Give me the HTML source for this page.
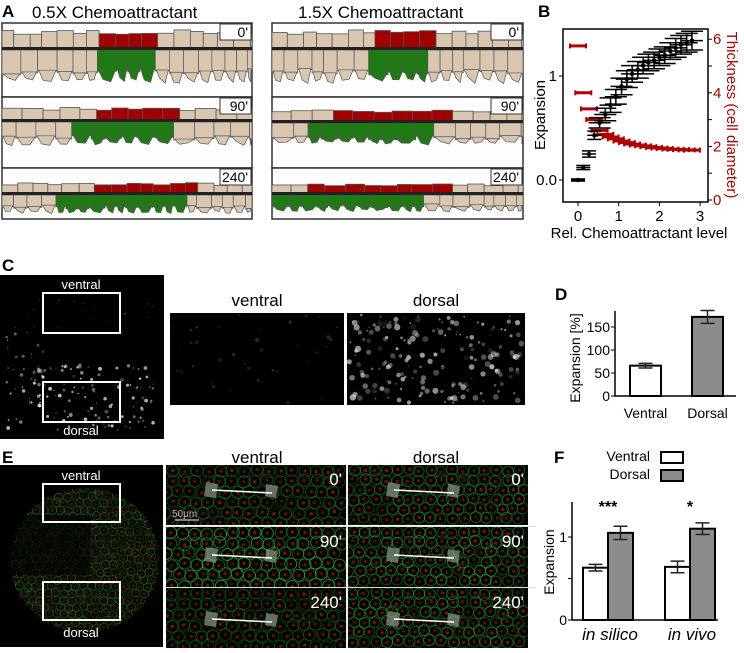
<!DOCTYPE html>
<html><head><meta charset="utf-8">
<style>
html,body{margin:0;padding:0;background:#fff;}
body{width:744px;height:648px;overflow:hidden;font-family:"Liberation Sans",Arial,sans-serif;}
svg text{font-family:"Liberation Sans",Arial,sans-serif;}
</style></head>
<body>
<svg id="fig" width="744" height="648" viewBox="0 0 744 648" xmlns="http://www.w3.org/2000/svg">
<g id="panelA"></g>
<g id="panelB"></g>
<g id="panelC"></g>
<g id="panelD"></g>
<g id="panelE"></g>
<g id="panelF"></g>
<g font-weight="bold" font-size="17">
<text x="2" y="17">A</text>
<text x="538" y="17">B</text>
<text x="2" y="271">C</text>
<text x="555" y="300">D</text>
<text x="2" y="463">E</text>
<text x="554" y="463">F</text>
</g>
<text x="32" y="18" font-size="17">0.5X Chemoattractant</text>
<text x="298" y="18" font-size="17">1.5X Chemoattractant</text>
</svg>
<script>
// ---- chart data (panel B) ----
const bConc = [0,0.13,0.27,0.4,0.53,0.67,0.8,0.93,1.07,1.2,1.33,1.47,1.6,1.73,1.87,2.0,2.13,2.27,2.4,2.53,2.67,2.8];
const bExpansion = [0.0,0.12,0.25,0.43,0.55,0.63,0.72,0.8,0.9,0.97,1.02,1.06,1.1,1.13,1.15,1.18,1.2,1.24,1.27,1.3,1.32,1.34];
const bExpErr = [0.01,0.02,0.03,0.04,0.05,0.06,0.07,0.07,0.08,0.08,0.08,0.08,0.08,0.08,0.08,0.08,0.08,0.08,0.09,0.09,0.09,0.09];
const bThickness = [5.75,4.0,3.4,3.0,2.6,2.45,2.35,2.28,2.2,2.14,2.09,2.05,2.02,1.99,1.96,1.94,1.92,1.9,1.89,1.88,1.87,1.86];
const bXTicks = [0,1,2,3];
const bYTicks = [0.0,1];
const bYTickLabels = ["0.0","1"];
const bY2Ticks = [0,1,2,3,4,5,6];
// ---- panel D ----
const dCats = ["Ventral","Dorsal"];
const dValues = [66,172];
const dErrors = [5,14];
const dTicks = [0,50,100,150];
// ---- panel F ----
const fGroups = ["in silico","in vivo"];
const fVentral = [0.63,0.64];
const fDorsal = [1.05,1.1];
const fVentralErr = [0.04,0.07];
const fDorsalErr = [0.08,0.07];
const fSig = ["***","*"];
const fTicks = [0,1];
</script>
<script>
const NS="http://www.w3.org/2000/svg";
function mk(parent,tag,attrs,text){const e=document.createElementNS(NS,tag);for(const k in attrs)e.setAttribute(k,attrs[k]);if(text!==undefined)e.textContent=text;parent.appendChild(e);return e;}
let seed=12345;function rnd(){seed=(seed*16807)%2147483647;return (seed-1)/2147483646;}

// ---------- Panel A ----------
const A=document.getElementById('panelA');
function strips(x0,x1,cfg){
  const boxes=[[23,97],[97,168],[168,219]];
  const lbl=["0'","90'","240'"];
  boxes.forEach((b,i)=>{
    const c=cfg[i];
    const g=mk(A,'g',{});
    
    
    mk(g,'rect',{x:x0,y:b[0],width:x1-x0,height:b[1]-b[0],fill:'#fdfdfd',stroke:'#333','stroke-width':1.5});
    let x=x0;
    while(x<x1){const w=c.tw*(0.8+rnd()*0.4);const w2=Math.min(w,x1-x);
      const red=(x+w2/2>c.r0&&x+w2/2<c.r1);
      const h=c.th*(0.85+rnd()*0.3);
      mk(g,'rect',{x:x,y:c.line-h,width:w2,height:h,fill:red?'#a00000':'#d8c6b0',stroke:'#555','stroke-width':0.8});
      x+=w;}
    x=x0;
    while(x<x1){const w=c.bw*(0.7+rnd()*0.6);const w2=Math.min(w,x1-x);
      const gr=(x+w2/2>c.g0&&x+w2/2<c.g1);
      const col=gr?'#1e7a12':'#d8c6b0';
      const h=c.bh*(0.6+rnd()*0.2);
      mk(g,'rect',{x:x,y:c.line+2,width:w2,height:h,fill:col,stroke:'#555','stroke-width':0.7});
      mk(g,'polygon',{points:`${x+1},${c.line+2+h-1} ${x+w2-1},${c.line+2+h-1} ${x+w2*0.7},${c.line+2+c.bh*(0.9+rnd()*0.15)} ${x+w2*0.3},${c.line+2+c.bh*(0.85+rnd()*0.15)}`,fill:col,stroke:'#555','stroke-width':0.7});
      x+=w;}
    mk(g,'rect',{x:x0,y:c.line-1,width:x1-x0,height:3,fill:'#222'});
    const lb=mk(A,'g',{});
    
    
    mk(lb,'rect',{x:x1-32,y:b[0]+1,width:31,height:16,fill:'#fff',stroke:'#333','stroke-width':1});
    mk(lb,'text',{x:x1-4,y:b[0]+14,'font-size':14,'text-anchor':'end'},lbl[i]);
  });
}
strips(2,252,[{line:48,tw:14,th:16,bw:15,bh:32,r0:98,r1:155,g0:95,g1:162},
              {line:120,tw:18,th:11,bw:16,bh:23,r0:92,r1:180,g0:70,g1:180},
              {line:193,tw:15,th:9,bw:13,bh:18,r0:92,r1:203,g0:55,g1:190}]);
strips(272,523,[{line:48,tw:14,th:16,bw:15,bh:32,r0:373,r1:433,g0:370,g1:432},
              {line:121,tw:18,th:10,bw:17,bh:21,r0:330,r1:457,g0:302,g1:437},
              {line:193,tw:18,th:8,bw:13,bh:16,r0:313,r1:457,g0:272,g1:428}]);

// ---------- Panel B ----------
const B=document.getElementById('panelB');
const bx=v=>578+v*40.7, by=v=>180-v*104, by2=v=>200-v*26.8;
mk(B,'rect',{x:563,y:29,width:145,height:173,fill:'none',stroke:'#000','stroke-width':1.5});
bXTicks.forEach(t=>{mk(B,'line',{x1:bx(t),y1:202,x2:bx(t),y2:206,stroke:'#000'});
  const tl=mk(B,'text',{x:bx(t),y:221,'font-size':15,'text-anchor':'middle'},t);
  });
bYTicks.forEach((t,i)=>{mk(B,'line',{x1:559,y1:by(t),x2:563,y2:by(t),stroke:'#000'});
  mk(B,'text',{x:557,y:by(t)+5,'font-size':15,'text-anchor':'end'},bYTickLabels[i]);});
bY2Ticks.forEach(t=>{mk(B,'line',{x1:708,y1:by2(t),x2:712,y2:by2(t),stroke:'#000'});
  if(t%2===0) mk(B,'text',{x:713,y:by2(t)+5,'font-size':15,fill:'#b00000'},t);});
bConc.forEach((c,i)=>{
  const g=mk(B,'g',{stroke:'#b00000','stroke-width':2});
  
  const y=by2(bThickness[i]);
  mk(g,'line',{x1:bx(c)-8,y1:y,x2:bx(c)+8,y2:y,'stroke-width':3});
  mk(g,'line',{x1:bx(c)-8,y1:y-2.5,x2:bx(c)-8,y2:y+2.5});
  mk(g,'line',{x1:bx(c)+8,y1:y-2.5,x2:bx(c)+8,y2:y+2.5});
});
bConc.forEach((c,i)=>{
  const g=mk(B,'g',{stroke:'#000','stroke-width':1.5});
  
  const y=by(bExpansion[i]),e=bExpErr[i]*104,hw=i<4?7:11;
  mk(g,'line',{x1:bx(c),y1:y-e,x2:bx(c),y2:y+e});
  mk(g,'line',{x1:bx(c)-hw,y1:y-e,x2:bx(c)+hw,y2:y-e});
  mk(g,'line',{x1:bx(c)-hw,y1:y+e,x2:bx(c)+hw,y2:y+e});
  mk(g,'line',{x1:bx(c)-hw,y1:y,x2:bx(c)+hw,y2:y});
  mk(g,'circle',{cx:bx(c),cy:y,r:1.5,fill:'#000'});
});
mk(B,'text',{x:0,y:0,'font-size':15,'text-anchor':'middle',transform:'translate(545,115) rotate(-90)',},'Expansion');
mk(B,'text',{x:0,y:0,'font-size':15,'text-anchor':'middle',fill:'#b00000',transform:'translate(727,115) rotate(90)',},'Thickness (cell diameter)');
mk(B,'text',{x:639,y:238,'font-size':15,'text-anchor':'middle',},'Rel. Chemoattractant level');

function speckle(parent,x,y,w,h,n,maxR,bright){
  for(let i=0;i<n;i++){const px=x+rnd()*w,py=y+rnd()*h;const r=0.6+rnd()*maxR;
    mk(parent,'circle',{cx:px,cy:py,r:r,fill:'#fff',opacity:(0.1+rnd()*0.8)*bright});}
}
// ---------- Panel C ----------
const C=document.getElementById('panelC');
mk(C,'rect',{x:0,y:275,width:164,height:164,fill:'#000',});
speckle(C,5,300,150,30,20,0.7,0.25);
speckle(C,5,365,150,65,140,1.4,0.85);
speckle(C,5,330,40,60,20,1.1,0.6);
mk(C,'rect',{x:43,y:293,width:77,height:40,fill:'none',stroke:'#fff','stroke-width':2,});
mk(C,'rect',{x:43,y:382,width:77,height:40,fill:'none',stroke:'#fff','stroke-width':2,});
mk(C,'text',{x:81,y:289,'font-size':13,fill:'#fff','text-anchor':'middle'},'ventral');
mk(C,'text',{x:81,y:435,'font-size':13,fill:'#fff','text-anchor':'middle'},'dorsal');
mk(C,'rect',{x:170,y:313,width:174,height:92,fill:'#000',});
speckle(C,172,315,170,88,40,1.5,0.2);
mk(C,'rect',{x:347,y:313,width:178,height:92,fill:'#000',});
speckle(C,349,315,174,88,200,2.6,0.7);
mk(C,'text',{x:257,y:306,'font-size':17,'text-anchor':'middle'},'ventral');
mk(C,'text',{x:436,y:306,'font-size':17,'text-anchor':'middle'},'dorsal');

// ---------- Panel E ----------
const E=document.getElementById('panelE');
function cells(parent,x,y,w,h,step,gOp,rOp){
  const g=mk(parent,'g',{});
  mk(g,'rect',{x:x,y:y,width:w,height:h,fill:'#020602'});
  for(let yy=y+step/2;yy<y+h;yy+=step*0.87){
    for(let xx=x+((Math.round((yy-y)/step)%2)?step/2:0);xx<x+w;xx+=step){
      const cx=xx+(rnd()-0.5)*3,cy=yy+(rnd()-0.5)*3;
      mk(g,'circle',{cx:cx,cy:cy,r:step*0.5,fill:'none',stroke:'#34b52a','stroke-width':0.8,opacity:gOp*(0.5+rnd()*0.5)});
      mk(g,'circle',{cx:cx,cy:cy,r:1.6,fill:'#d01010',opacity:rOp*(0.5+rnd()*0.5)});
    }}
  return g;
}
mk(E,'rect',{x:0,y:465,width:163,height:182,fill:'#000',});
const clipC=mk(E,'clipPath',{id:'disc'});mk(clipC,'ellipse',{cx:85,cy:560,rx:75,ry:72});
const eg=cells(E,0,485,160,150,8,0.45,0.4);eg.setAttribute('clip-path','url(#disc)');
mk(E,'rect',{x:0,y:515,width:90,height:60,fill:'#000',opacity:0.6,'clip-path':'url(#disc)'});
mk(E,'rect',{x:43,y:484,width:77,height:38,fill:'none',stroke:'#fff','stroke-width':2,});
mk(E,'rect',{x:43,y:582,width:77,height:38,fill:'none',stroke:'#fff','stroke-width':2,});
mk(E,'text',{x:81,y:480,'font-size':13,fill:'#fff','text-anchor':'middle'},'ventral');
mk(E,'text',{x:81,y:637,'font-size':13,fill:'#fff','text-anchor':'middle'},'dorsal');
mk(E,'text',{x:257,y:463,'font-size':17,'text-anchor':'middle'},'ventral');
mk(E,'text',{x:436,y:463,'font-size':17,'text-anchor':'middle'},'dorsal');
const tiles=[[166,465,"0'",0.5],[166,527,"90'",0.9],[166,588,"240'",0.45],[348,465,"0'",0.6],[348,527,"90'",0.7],[348,588,"240'",0.65]];
tiles.forEach((t,i)=>{
  const g=mk(E,'g',{});
  
  const cp=mk(g,'clipPath',{id:'tc'+i});mk(cp,'rect',{x:t[0],y:t[1],width:180,height:60});
  const c=cells(g,t[0],t[1],180,60,i<3?12:11,t[3],0.7);c.setAttribute('clip-path','url(#tc'+i+')');
  const ly=t[1]+25+(i%3)*3;
  mk(g,'polygon',{points:`${t[0]+40},${ly-8} ${t[0]+52},${ly-6} ${t[0]+50},${ly+8} ${t[0]+38},${ly+6}`,fill:'#8a9a8a',opacity:0.7});
  mk(g,'polygon',{points:`${t[0]+100},${ly-6} ${t[0]+112},${ly-4} ${t[0]+110},${ly+8} ${t[0]+99},${ly+6}`,fill:'#8a9a8a',opacity:0.7});
  mk(g,'line',{x1:t[0]+46,y1:ly,x2:t[0]+106,y2:ly+3,stroke:'#fff','stroke-width':1.5});
  mk(g,'text',{x:t[0]+176,y:t[1]+20,'font-size':17,fill:'#fff','text-anchor':'end'},t[2]);
});
mk(E,'line',{x1:166,y1:526.5,x2:536,y2:526.5,stroke:'#ddd'});
mk(E,'line',{x1:166,y1:587.5,x2:536,y2:587.5,stroke:'#ddd'});
mk(E,'line',{x1:347,y1:465,x2:347,y2:648,stroke:'#ddd'});
mk(E,'line',{x1:175,y1:520,x2:199,y2:520,stroke:'#aaa','stroke-width':1.5});
mk(E,'text',{x:172,y:517,'font-size':10,fill:'#bbb'},'50\u03bcm');

// ---------- Panel D ----------
const D=document.getElementById('panelD');
const dy=v=>396-v*0.46;const dX=[630,692];
dCats.forEach((c,i)=>{
  const g=mk(D,'g',{});
  mk(g,'rect',{x:dX[i],y:dy(dValues[i]),width:31,height:396-dy(dValues[i]),fill:i?'#8c8c8c':'#fff',stroke:'#000','stroke-width':2});
  const t=dy(dValues[i]+dErrors[i]),b=dy(dValues[i]-dErrors[i]),cx=dX[i]+15.5;
  mk(g,'path',{d:`M${cx},${t}V${b}M${cx-7},${t}H${cx+7}M${cx-7},${b}H${cx+7}`,stroke:'#222','stroke-width':1.5,fill:'none'});
  mk(D,'text',{x:cx,y:418,'font-size':14,'text-anchor':'middle'},c);
});
mk(D,'path',{d:'M615,311V396H736',stroke:'#000','stroke-width':1.5,fill:'none'});
dTicks.forEach(t=>{mk(D,'line',{x1:611,y1:dy(t),x2:615,y2:dy(t),stroke:'#000'});
  mk(D,'text',{x:610,y:dy(t)+5,'font-size':14,'text-anchor':'end'},t);});
mk(D,'text',{x:0,y:0,'font-size':14,'text-anchor':'middle',transform:'translate(580,358) rotate(-90)',},'Expansion [%]');

// ---------- Panel F ----------
const F=document.getElementById('panelF');
const fy=v=>620-v*83;const fX=[583,665];
fGroups.forEach((gname,i)=>{
  [[fVentral,fVentralErr,'#fff',0],[fDorsal,fDorsalErr,'#8c8c8c',1]].forEach(s=>{
    const g=mk(F,'g',{});
    const x=fX[i]+s[3]*25,v=s[0][i],e=s[1][i];
    mk(g,'rect',{x:x,y:fy(v),width:25,height:620-fy(v),fill:s[2],stroke:'#000','stroke-width':2});
    const cx=x+12.5;
    mk(g,'path',{d:`M${cx},${fy(v+e)}V${fy(v-e)}M${cx-7},${fy(v+e)}H${cx+7}M${cx-7},${fy(v-e)}H${cx+7}`,stroke:'#222','stroke-width':1.5,fill:'none'});
  });
  mk(F,'text',{x:fX[i]+25,y:512,'font-size':16,'font-weight':'bold','text-anchor':'middle'},fSig[i]);
  mk(F,'text',{x:fX[i]+27,y:640,'font-size':17,'font-style':'italic','text-anchor':'middle'},gname);
});
mk(F,'path',{d:'M572,502V620H718',stroke:'#000','stroke-width':1.5,fill:'none'});
fTicks.forEach(t=>{mk(F,'line',{x1:568,y1:fy(t),x2:572,y2:fy(t),stroke:'#000'});
  mk(F,'text',{x:567,y:fy(t)+5,'font-size':14,'text-anchor':'end'},t);});
mk(F,'line',{x1:568,y1:fy(0.5),x2:572,y2:fy(0.5),stroke:'#000'});
mk(F,'text',{x:0,y:0,'font-size':14,'text-anchor':'middle',transform:'translate(554,562) rotate(-90)',},'Expansion');
const lg=mk(F,'g',{});
mk(lg,'text',{x:650,y:461,'font-size':14,'text-anchor':'end'},'Ventral');
mk(lg,'rect',{x:661,y:452,width:22,height:11,fill:'#fff',stroke:'#000','stroke-width':2});
mk(lg,'text',{x:650,y:479,'font-size':14,'text-anchor':'end'},'Dorsal');
mk(lg,'rect',{x:661,y:470,width:22,height:11,fill:'#8c8c8c',stroke:'#000','stroke-width':2});
</script>
</body></html>
